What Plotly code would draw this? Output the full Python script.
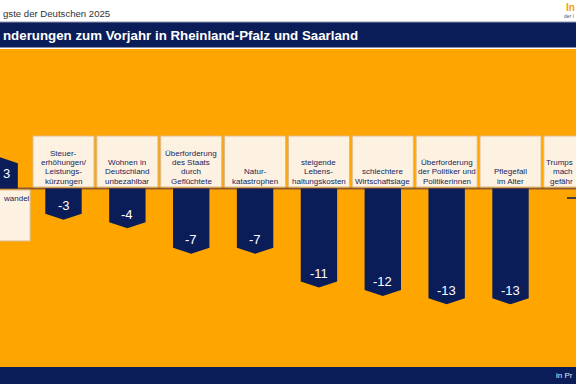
import plotly.graph_objects as go

# ---------------- data ----------------
categories = [
    "Klimawandel",
    "Steuererhöhungen/Leistungskürzungen",
    "Wohnen in Deutschland unbezahlbar",
    "Überforderung des Staats durch Geflüchtete",
    "Naturkatastrophen",
    "steigende Lebenshaltungskosten",
    "schlechtere Wirtschaftslage",
    "Überforderung der Politiker und Politikerinnen",
    "Pflegefall im Alter",
    "Trumps Politik",
]
values = [3, -3, -4, -7, -7, -11, -12, -13, -13, None]
box_lines = [
    ["wandel"],
    ["Steuer-", "erhöhungen/", "Leistungs-", "kürzungen"],
    ["Wohnen in", "Deutschland", "unbezahlbar"],
    ["Überforderung", "des Staats", "durch", "Geflüchtete"],
    ["Natur-", "katastrophen"],
    ["steigende", "Lebens-", "haltungskosten"],
    ["schlechtere", "Wirtschaftslage"],
    ["Überforderung", "der Politiker und", "Politikerinnen"],
    ["Pflegefall", "im Alter"],
    ["Trumps", "mach", "gefähr"],
]
subtitle_text = "gste der Deutschen 2025"
title_text = "nderungen zum Vorjahr in Rheinland-Pfalz und Saarland"
footer_text = "in Pr"
logo_text = "In"
logo_sub = "der I"

# ---------------- styling ----------------
W, H = 576, 384
NAVY = "#0B1D58"
ORANGE = "#FFA500"
CREAM = "#FDF2E1"
BOXLINE = "#DDBB8A"
BASELINE = "#8E5C2C"
TXT = "#16255C"
FONT = "Liberation Sans, Arial, sans-serif"

STEP = 63.86      # px per category
X0 = -0.36        # px of category 0 centre
K = 8.45          # px per unit
BASE = 188.5      # px of zero line


def xd(px):
    return (px - X0) / STEP


def yd(py):
    return (BASE - py) / K


def py_paper(py):
    return 1 - py / H


fig = go.Figure()

# bars with chevron ends
half_w = 0.285
chev = 6 / K
for i, v in enumerate(values):
    if v is None:
        continue
    s = 1 if v > 0 else -1
    fig.add_trace(go.Scatter(
        x=[i - half_w, i + half_w, i + half_w, i, i - half_w, i - half_w],
        y=[0, 0, v, v + s * chev, v, 0],
        fill="toself", fillcolor=NAVY, mode="lines",
        line=dict(width=0, color=NAVY), hoverinfo="skip", showlegend=False,
    ))

shapes = []
# title band
shapes.append(dict(type="rect", xref="paper", yref="paper", x0=0, x1=1,
                   y0=py_paper(47.5), y1=py_paper(22), fillcolor=NAVY,
                   line=dict(width=0), layer="below"))
shapes.append(dict(type="line", xref="paper", yref="paper", x0=0, x1=1,
                   y0=py_paper(22), y1=py_paper(22),
                   line=dict(width=1, color="#9096AE"), layer="below"))
# orange area
shapes.append(dict(type="rect", xref="paper", yref="paper", x0=0, x1=1,
                   y0=py_paper(367), y1=py_paper(49), fillcolor=ORANGE,
                   line=dict(width=0), layer="below"))
# footer
shapes.append(dict(type="rect", xref="paper", yref="paper", x0=0, x1=1,
                   y0=0, y1=py_paper(367), fillcolor=NAVY,
                   line=dict(width=0), layer="below"))

# label boxes
bh = 0.478
for i, v in enumerate(values):
    if v is not None and v > 0:
        y0, y1 = yd(241), yd(190)
    else:
        y0, y1 = yd(187), yd(136)
    shapes.append(dict(type="rect", xref="x", yref="y", x0=i - bh, x1=i + bh,
                       y0=y0, y1=y1, fillcolor=CREAM,
                       line=dict(width=1, color=BOXLINE), layer="below"))

# zero line
shapes.append(dict(type="line", xref="paper", yref="y", x0=0, x1=1, y0=0, y1=0,
                   line=dict(width=2, color=BASELINE), layer="below"))

# dash for category without comparison value
for i, v in enumerate(values):
    if v is None:
        shapes.append(dict(type="line", xref="x", yref="y",
                           x0=i - 0.116, x1=i + 0.15, y0=yd(198), y1=yd(198),
                           line=dict(width=1.5, color=NAVY)))

annotations = []
xmin, xmax = xd(0), xd(W)

# box texts
for i, (v, lines) in enumerate(zip(values, box_lines)):
    edge_left = i - bh < xmin
    edge_right = i + bh > xmax
    if v is not None and v > 0:
        pys = [198 + 9.1 * j for j in range(len(lines))]
    else:
        n = len(lines)
        pys = [181 - 9.1 * (n - 1 - j) for j in range(n)]
    for line, pyv in zip(lines, pys):
        if edge_left:
            x, xa = xd(0.5), "left"
        elif edge_right:
            x, xa = xd(575), "right"
        else:
            x, xa = i, "center"
        annotations.append(dict(x=x, y=yd(pyv), xref="x", yref="y", text=line,
                                showarrow=False, xanchor=xa, yanchor="middle",
                                font=dict(family=FONT, size=8, color=TXT)))

# value labels
for i, v in enumerate(values):
    if v is None:
        continue
    s = 1 if v > 0 else -1
    off = (10 if v > 0 else 8) / K
    x, xa = i, "center"
    if i - 0.15 < xmin:
        x, xa = xd(0.5), "left"
    annotations.append(dict(x=x, y=v - s * off, xref="x", yref="y",
                            text=f"{v}", showarrow=False, xanchor=xa,
                            yanchor="middle",
                            font=dict(family=FONT, size=13, color="white")))

# header / footer texts
annotations.append(dict(x=0.5 / W, y=py_paper(13.5), xref="paper", yref="paper",
                        text=subtitle_text, showarrow=False, xanchor="left",
                        yanchor="middle",
                        font=dict(family=FONT, size=9.6, color="#333333")))
annotations.append(dict(x=0.5 / W, y=py_paper(35), xref="paper", yref="paper",
                        text=title_text, showarrow=False, xanchor="left",
                        yanchor="middle",
                        font=dict(family=FONT, size=13.3, color="white",
                                  weight="bold")))
annotations.append(dict(x=564 / W, y=py_paper(7.5), xref="paper", yref="paper",
                        text=logo_text, showarrow=False, xanchor="left",
                        yanchor="middle",
                        font=dict(family=FONT, size=10, color="#F5A000",
                                  weight="bold")))
annotations.append(dict(x=562 / W, y=py_paper(15.5), xref="paper", yref="paper",
                        text=logo_sub, showarrow=False, xanchor="left",
                        yanchor="middle",
                        font=dict(family=FONT, size=5, color="#555555")))
annotations.append(dict(x=575 / W, y=py_paper(375.5), xref="paper", yref="paper",
                        text=footer_text, showarrow=False, xanchor="right",
                        yanchor="middle",
                        font=dict(family=FONT, size=8, color="#E6E9F2")))

fig.update_layout(
    width=W, height=H,
    margin=dict(l=0, r=0, t=0, b=0, pad=0),
    paper_bgcolor="white", plot_bgcolor="white",
    xaxis=dict(range=[xmin, xmax], visible=False, fixedrange=True),
    yaxis=dict(range=[yd(H), yd(0)], visible=False, fixedrange=True),
    shapes=shapes, annotations=annotations, showlegend=False,
)

fig.write_html(
    "out.html",
    config={"displayModeBar": False},
    post_script="document.body.style.margin='0';document.body.style.overflow='hidden';",
)
